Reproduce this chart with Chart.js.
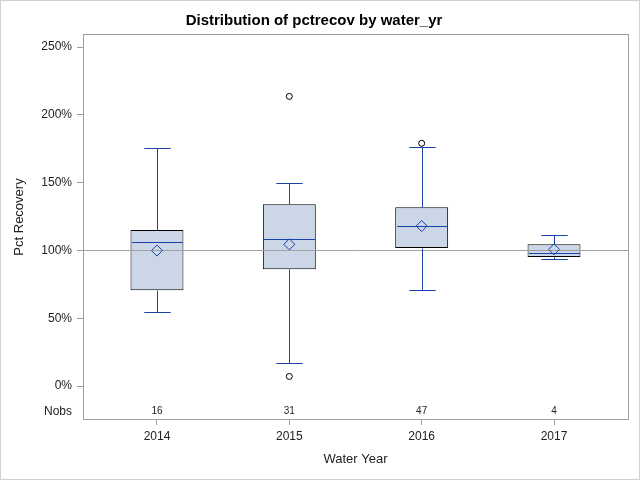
<!DOCTYPE html>
<html>
<head>
<meta charset="utf-8">
<script src="https://cdn.jsdelivr.net/npm/chart.js@4.4.1/dist/chart.umd.min.js"></script>
<style>
  html, body { margin: 0; padding: 0; background: #fff; }
  canvas { display: block; }
</style>
</head>
<body>
<canvas id="chart" width="640" height="480"></canvas>
<script>
// box plot values (percent)
const years = [2014, 2015, 2016, 2017];
const q1 = [70.6, 86.1, 101.8, 95.1];
const q3 = [115.0, 134.0, 131.8, 104.5];
const medians = [106.0, 108.2, 117.8, 97.9];
const means = [99.9, 104.5, 118.0, 100.8];
const whiskerLo = [54.6, 16.7, 70.6, 93.9];
const whiskerHi = [175.3, 149.9, 176.3, 111.1];
const nobs = [16, 31, 47, 4];
const outlierYears = [2015, 2015, 2016];
const outlierValues = [213.6, 7.1, 179.0];
const yTicks = [0, 50, 100, 150, 200, 250];
const refLine = 100;
const nobsRow = -18.9;

const BLUE = '#1a42a8';
const AXIS = '#9aa0a4';

Chart.defaults.font.family = '"Liberation Sans", Arial, sans-serif';
Chart.defaults.font.size = 12;
Chart.defaults.color = '#222';

const line = (ctx, x1, y1, x2, y2) => { ctx.beginPath(); ctx.moveTo(x1, y1); ctx.lineTo(x2, y2); ctx.stroke(); };
const px = v => Math.round(v) + 0.5;

// whiskers, medians, reference line, Nobs row, frames
const boxParts = {
  id: 'boxParts',
  beforeDraw(chart) {
    const { ctx, width, height } = chart;
    ctx.save();
    ctx.fillStyle = '#fff';
    ctx.fillRect(0, 0, width, height);
    ctx.strokeStyle = '#d0d0d0';
    ctx.lineWidth = 1;
    ctx.strokeRect(0.5, 0.5, width - 1, height - 1);
    ctx.restore();
  },
  afterDatasetDraw(chart, args) {
    if (args.index !== 0) return;
    const { ctx, chartArea: a, scales: { x, y } } = chart;
    ctx.save();
    ctx.lineWidth = 1;
    ctx.strokeStyle = '#a0a0a0';
    const ry = px(y.getPixelForValue(refLine));
    line(ctx, a.left, ry, a.right, ry);

    const bars = args.meta.data;
    ctx.strokeStyle = BLUE;
    years.forEach((yr, i) => {
      const cx = px(x.getPixelForValue(yr));
      const half = bars[i].width / 2;
      const cap = half / 2;
      const yHi = px(y.getPixelForValue(whiskerHi[i]));
      const yLo = px(y.getPixelForValue(whiskerLo[i]));
      const yQ3 = px(y.getPixelForValue(q3[i]));
      const yQ1 = px(y.getPixelForValue(q1[i]));
      const yMed = px(y.getPixelForValue(medians[i]));
      line(ctx, cx, yQ3, cx, yHi);
      line(ctx, cx - cap, yHi, cx + cap, yHi);
      line(ctx, cx, yQ1, cx, yLo);
      line(ctx, cx - cap, yLo, cx + cap, yLo);
      line(ctx, cx - half + 1, yMed, cx + half - 1, yMed);
    });

    ctx.fillStyle = '#222';
    ctx.font = '10px "Liberation Sans", Arial, sans-serif';
    ctx.textAlign = 'center';
    ctx.textBaseline = 'middle';
    const ny = y.getPixelForValue(nobsRow);
    years.forEach((yr, i) => ctx.fillText(String(nobs[i]), x.getPixelForValue(yr), ny));
    ctx.restore();
  },
  afterDraw(chart) {
    const { ctx, chartArea: a } = chart;
    ctx.save();
    ctx.strokeStyle = AXIS;
    ctx.lineWidth = 1;
    ctx.strokeRect(px(a.left), px(a.top), Math.round(a.right - a.left), Math.round(a.bottom - a.top));
    // y axis title, centred like the reference
    ctx.fillStyle = '#222';
    ctx.font = '13px "Liberation Sans", Arial, sans-serif';
    ctx.textAlign = 'center';
    ctx.textBaseline = 'middle';
    ctx.translate(19, 217);
    ctx.rotate(-Math.PI / 2);
    ctx.fillText('Pct Recovery', 0, 0);
    ctx.restore();
  },
};

new Chart(document.getElementById('chart'), {
  data: {
    datasets: [
      {
        type: 'bar',
        order: 3,
        data: years.map((yr, i) => ({ x: yr, y: [q1[i], q3[i]] })),
        backgroundColor: '#cbd6e6',
        borderColor: '#000',
        borderWidth: 1,
        borderSkipped: false,
        categoryPercentage: 0.5,
        barPercentage: 0.8,
      },
      {
        type: 'scatter',
        order: 2,
        data: years.map((yr, i) => ({ x: yr, y: means[i] })),
        pointStyle: 'rectRot',
        radius: 5.5,
        borderColor: BLUE,
        backgroundColor: 'rgba(0,0,0,0)',
        borderWidth: 1,
      },
      {
        type: 'scatter',
        order: 1,
        data: outlierYears.map((yr, i) => ({ x: yr, y: outlierValues[i] })),
        pointStyle: 'circle',
        radius: 3,
        borderColor: '#000',
        backgroundColor: '#fff',
        borderWidth: 1,
      },
    ],
  },
  options: {
    responsive: false,
    animation: false,
    devicePixelRatio: 1,
    layout: { padding: { left: 0, right: 12, top: 0, bottom: 0 } },
    plugins: {
      legend: { display: false },
      tooltip: { enabled: false },
      title: {
        display: true,
        text: 'Distribution of pctrecov by water_yr',
        font: { size: 15, weight: 'bold' },
        color: '#000',
        padding: { top: 12, bottom: 4 },
      },
    },
    scales: {
      x: {
        type: 'linear',
        offset: false,
        min: 2013.441,
        max: 2017.559,
        afterBuildTicks: s => { s.ticks = years.map(v => ({ value: v })); },
        afterFit: s => { s.height = 61; },
        ticks: { callback: v => String(v), padding: 4, maxRotation: 0 },
        grid: { offset: false, drawOnChartArea: false, drawTicks: true, tickLength: 6, tickColor: AXIS },
        border: { display: false },
        title: { display: true, text: 'Water Year', font: { size: 13 }, padding: { top: 0, bottom: 13 } },
      },
      y: {
        type: 'linear',
        min: -24.3,
        max: 259.6,
        afterBuildTicks: s => { s.ticks = [nobsRow, ...yTicks].map(v => ({ value: v })); },
        afterFit: s => { s.width = 83; },
        ticks: { callback: v => (v === nobsRow ? 'Nobs' : v + '%'), padding: 5 },
        grid: {
          drawOnChartArea: false,
          drawTicks: true,
          tickLength: 6,
          tickColor: c => (c.tick && c.tick.value === nobsRow ? 'rgba(0,0,0,0)' : AXIS),
        },
        border: { display: false },
      },
    },
  },
  plugins: [boxParts],
});
</script>
</body>
</html>
